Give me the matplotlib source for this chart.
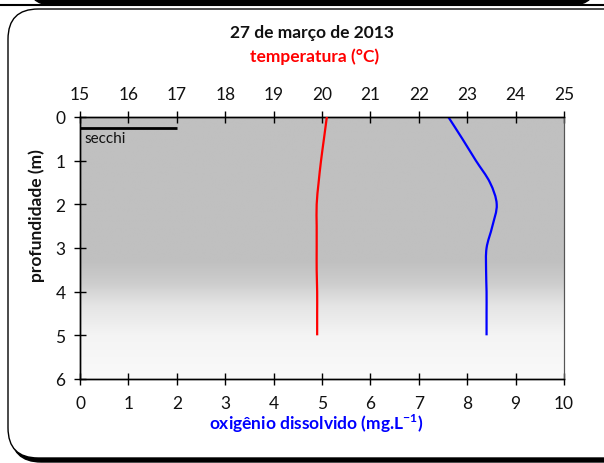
import numpy as np
import matplotlib
matplotlib.use("Agg")
import matplotlib.pyplot as plt
from matplotlib.path import Path
from matplotlib.patches import PathPatch, FancyBboxPatch
from matplotlib.lines import Line2D

plt.rcParams['font.family'] = ['Lato', 'DejaVu Sans']
plt.rcParams['mathtext.fontset'] = 'custom'
plt.rcParams['mathtext.rm'] = 'Lato'
plt.rcParams['mathtext.bf'] = 'Lato:bold'

# ---- data ----
title = "27 de março de 2013"
depth = [0, 0.5, 1, 1.5, 2, 2.5, 3, 3.5, 4, 4.5, 5]
temperature = [20.10, 20.04, 19.98, 19.93, 19.89, 19.89, 19.89, 19.89, 19.90, 19.90, 19.90]
oxygen = [7.61, 7.90, 8.18, 8.47, 8.61, 8.52, 8.40, 8.39, 8.40, 8.40, 8.40]
secchi_depth = 0.25
secchi_x = [0, 2]
oxy_ticks = list(range(0, 11))
temp_ticks = list(range(15, 26))
depth_ticks = list(range(0, 7))

W, H = 604, 464
fig = plt.figure(figsize=(W / 100, H / 100), dpi=100)
fig.patch.set_facecolor('white')

def fx(px):
    return px / W

def fy(py):
    return 1 - py / H

# ---- frame decorations ----
fig.add_artist(Line2D([0, 1], [fy(6), fy(6)], transform=fig.transFigure, color='black', lw=1.5, zorder=-5))
fig.add_artist(FancyBboxPatch((fx(28), fy(6)), fx(568), fy(-40) - fy(6),
                              boxstyle="round,pad=0,rounding_size=0.04",
                              transform=fig.transFigure, facecolor='black', edgecolor='black',
                              mutation_aspect=W / H, zorder=-5))
# shadow
fig.add_artist(FancyBboxPatch((fx(11), fy(463)), fx(640), fy(13) - fy(463),
                              boxstyle="round,pad=0,rounding_size=0.05",
                              transform=fig.transFigure, facecolor='black', edgecolor='black',
                              mutation_aspect=W / H, zorder=-4))
fig.add_artist(FancyBboxPatch((fx(8), fy(459)), fx(640), fy(10) - fy(459),
                              boxstyle="round,pad=0,rounding_size=0.05",
                              transform=fig.transFigure, facecolor='white', edgecolor='black',
                              lw=1.0, mutation_aspect=W / H, zorder=-3))

# ---- axes ----
ax = fig.add_axes([fx(80), fy(380), fx(564) - fx(80), fy(118) - fy(380)])
ax.set_facecolor('none')

# gradient background
gy = np.linspace(0, 6, 300)
gv = np.interp(gy, [0, 3.3, 3.8, 4.3, 5.0, 6.0], [192, 192, 205, 228, 244, 250]) / 255.0
img = np.repeat(gv[:, None], 2, axis=1)
ax.imshow(np.dstack([img, img, img]), extent=[0, 10, 6, 0], aspect='auto', zorder=0, interpolation='bilinear')
ax.set_xlim(0, 10)
ax.set_ylim(6, 0)

ax2 = ax.twiny()
ax2.set_xlim(15, 25)
ax2.set_ylim(6, 0)

def smooth_path(xs, ys):
    pts = np.column_stack([xs, ys]).astype(float)
    n = len(pts)
    verts = [pts[0]]
    codes = [Path.MOVETO]
    for i in range(n - 1):
        p0 = pts[i - 1] if i > 0 else pts[i]
        p1 = pts[i]
        p2 = pts[i + 1]
        p3 = pts[i + 2] if i + 2 < n else pts[i + 1]
        c1 = p1 + (p2 - p0) / 6.0
        c2 = p2 - (p3 - p1) / 6.0
        verts += [c1, c2, p2]
        codes += [Path.CURVE4] * 3
    return Path(verts, codes)

ax.add_patch(PathPatch(smooth_path(oxygen, depth), fill=False, edgecolor='#0000ff', lw=1.6, zorder=3))
ax2.add_patch(PathPatch(smooth_path(temperature, depth), fill=False, edgecolor='#ff0000', lw=1.6, zorder=3))

# secchi
ax.plot(secchi_x, [secchi_depth, secchi_depth], color='black', lw=2, zorder=4, solid_capstyle='butt')
ax.text(0.1, 0.48, 'secchi', fontsize=11, va='center', ha='left', color='#111111')

# ticks
ax.set_xticks(oxy_ticks)
ax.set_yticks(depth_ticks)
ax2.set_xticks(temp_ticks)
for a in (ax, ax2):
    a.tick_params(direction='inout', length=9, width=1, color='black', labelsize=12.5,
                  labelcolor='#111111', pad=5)
ax.tick_params(axis='x', pad=7)
ax2.tick_params(axis='x', pad=6)
ax.tick_params(axis='y', pad=6)

for a in (ax, ax2):
    for s in a.spines.values():
        s.set_color('black')
        s.set_linewidth(1.0)
    a.spines['right'].set_color('#555555')
    a.spines['right'].set_linewidth(0.8)

# texts
fig.text(fx(312), fy(33), title, ha='center', va='center', fontsize=12.5, fontweight='bold', color='#111111')
fig.text(fx(315), fy(57), 'temperatura (°C)', ha='center', va='center', fontsize=12.5,
         fontweight='bold', color='#ff0000')
fig.text(fx(316), fy(424), 'oxigênio dissolvido (mg.L$^{\\mathbf{-1}}$)', ha='center', va='center',
         fontsize=12.5, fontweight='bold', color='#0000ff')
fig.text(fx(37), fy(216), 'profundidade (m)', ha='center', va='center', rotation=90,
         fontsize=12.5, fontweight='bold', color='#111111')

fig.savefig('out.png', dpi=100)
